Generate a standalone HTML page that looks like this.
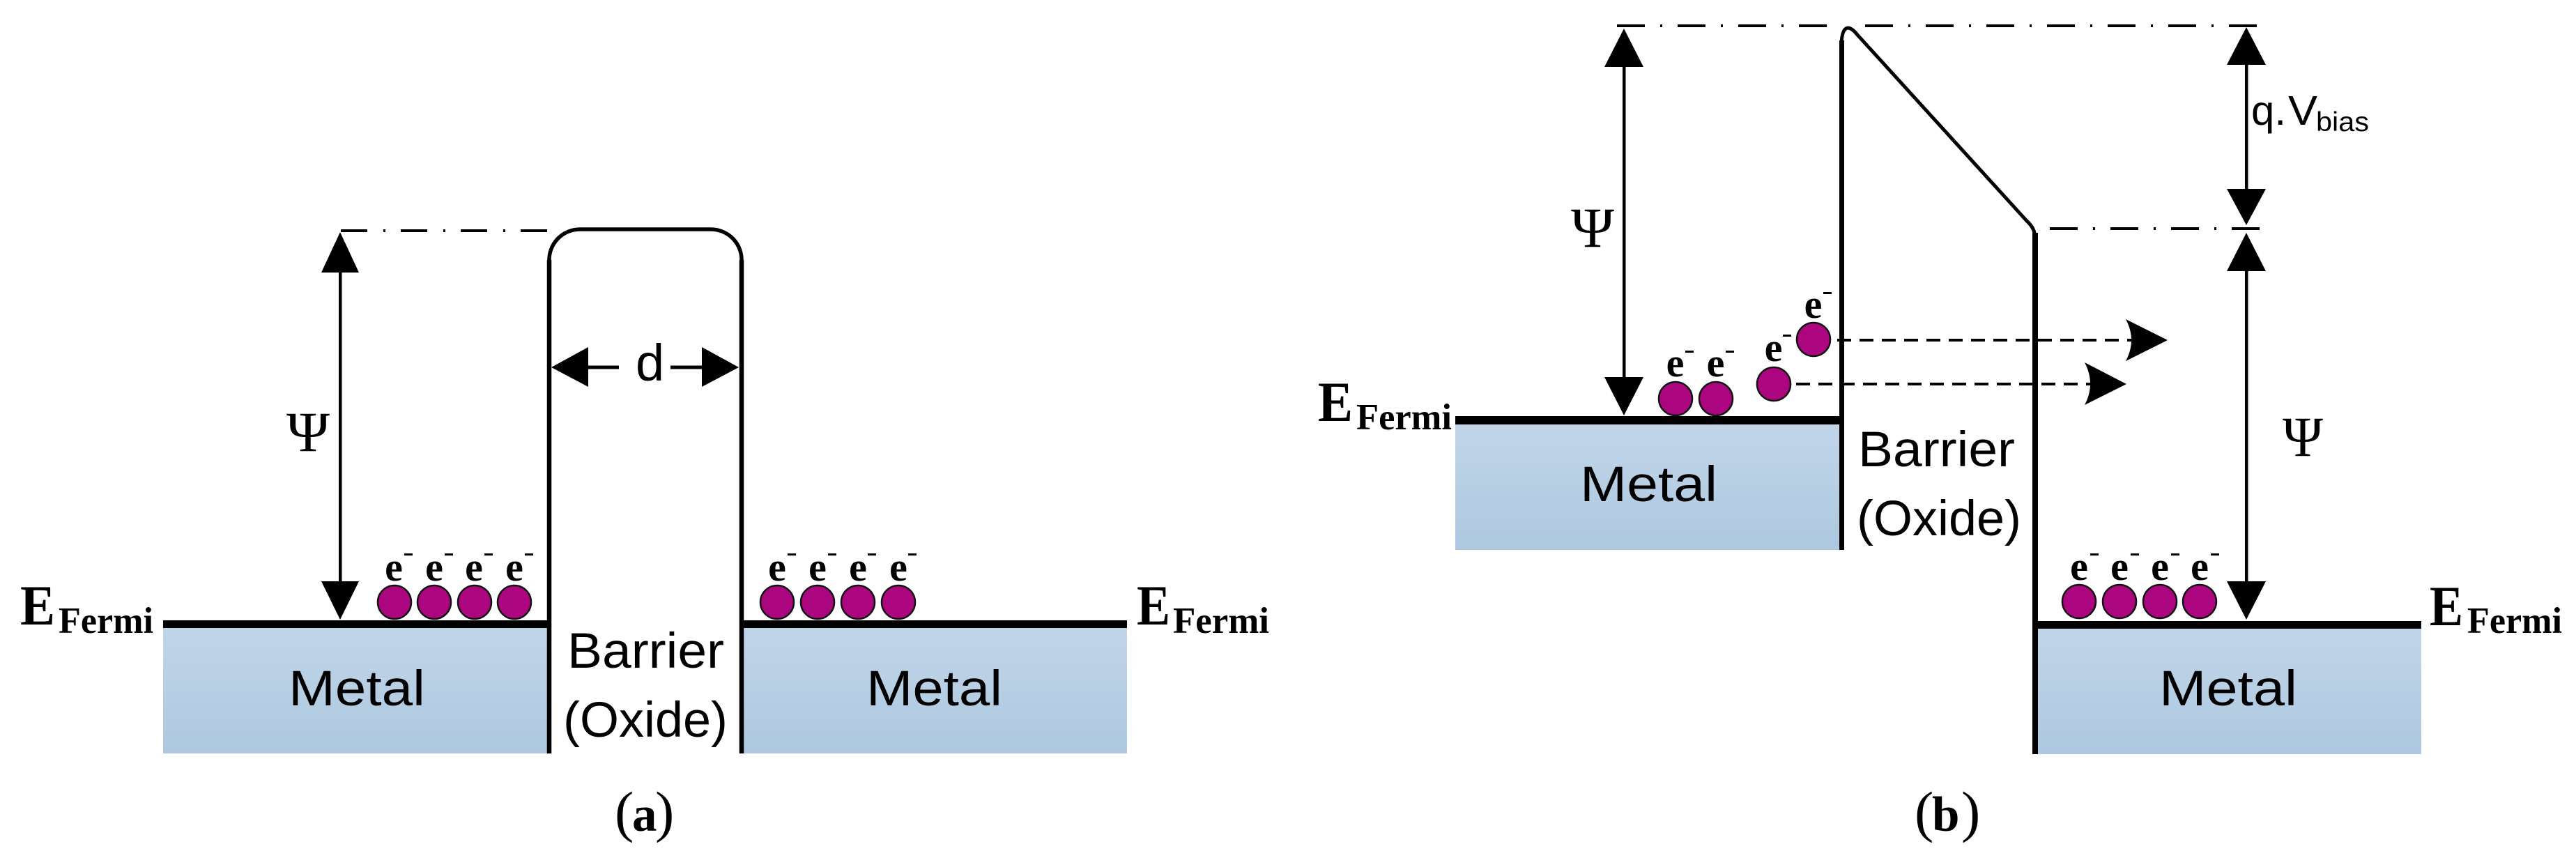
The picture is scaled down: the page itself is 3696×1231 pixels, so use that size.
<!DOCTYPE html>
<html>
<head>
<meta charset="utf-8">
<style>
html,body{margin:0;padding:0;background:#fff}
svg{display:block}
.sf{font-family:"Liberation Serif",serif}
.ss{font-family:"Liberation Sans",sans-serif}
.e{font-family:"Liberation Serif",serif;font-weight:bold;font-size:58px;text-anchor:middle}
.c{fill:#AB057F;stroke:#111;stroke-width:2.5}
</style>
</head>
<body>
<svg width="3696" height="1231" viewBox="0 0 3696 1231" xmlns="http://www.w3.org/2000/svg">
<defs>
<linearGradient id="g" x1="0" y1="0" x2="0" y2="1"><stop offset="0" stop-color="#C1D5E9"/><stop offset="1" stop-color="#ADC8DF"/></linearGradient>
</defs>
<rect width="3696" height="1231" fill="#fff"/>

<!-- metals -->
<rect x="234" y="900" width="551" height="181" fill="url(#g)"/>
<rect x="1067" y="900" width="550" height="181" fill="url(#g)"/>
<rect x="2088" y="609" width="552" height="180" fill="url(#g)"/>
<rect x="2923" y="901" width="551" height="181" fill="url(#g)"/>

<!-- Fermi lines -->
<rect x="234" y="890" width="552" height="11" fill="#000"/>
<rect x="1065" y="890" width="552" height="11" fill="#000"/>
<rect x="2088" y="597" width="553" height="12" fill="#000"/>
<rect x="2920" y="891" width="554" height="11" fill="#000"/>

<!-- barrier a -->
<path d="M788 375A44 44 0 0 1 832 329H1020A44 44 0 0 1 1064 375" fill="none" stroke="#000" stroke-width="5.5"/>
<path d="M788 373V1081M1064 373V1081" fill="none" stroke="#000" stroke-width="6.5"/>

<!-- barrier b -->
<path d="M2642.5 789V58" stroke="#000" stroke-width="7" fill="none"/>
<path d="M2642 62Q2643 40 2652 40Q2658 41 2665 50L2908 317Q2919 327 2919.5 338" fill="none" stroke="#000" stroke-width="5"/>
<path d="M2920 334V1082" stroke="#000" stroke-width="8" fill="none"/>

<!-- dash-dot lines -->
<g fill="none" stroke="#000" stroke-width="4">
<path d="M489 331H790" stroke-dasharray="38 23 3 22"/>
<path d="M2320 37H2622" stroke-dasharray="40 22 3 22"/>
<path d="M2676 37H3240" stroke-dasharray="40 22 3 22"/>
<path d="M2941 328H3243" stroke-dasharray="40 22 3 22"/>
</g>

<!-- dimension arrows a -->
<g fill="#000" stroke="none">
<rect x="486" y="385" width="4.5" height="455"/>
<path d="M488 333L515 391H461Z"/>
<path d="M488 889L461 834H515Z"/>
<rect x="840" y="524.5" width="48" height="5"/>
<rect x="962" y="524.5" width="50" height="5"/>
<path d="M791 527L844 498V555Z"/>
<path d="M1060 527L1007 498V555Z"/>
</g>

<!-- dimension arrows b -->
<g fill="#000" stroke="none">
<rect x="2328" y="90" width="4.5" height="455"/>
<path d="M2330 41L2358 96H2302Z"/>
<path d="M2330 596L2302 541H2358Z"/>
<rect x="3221" y="88" width="4.5" height="188"/>
<path d="M3223 39L3251 93H3195Z"/>
<path d="M3223 323L3195 271H3251Z"/>
<rect x="3221" y="385" width="4.5" height="453"/>
<path d="M3223 334L3251 389H3195Z"/>
<path d="M3223 889L3195 834H3251Z"/>
</g>

<!-- tunnel dashed arrows -->
<g fill="none" stroke="#000" stroke-width="4">
<path d="M2636 488H3060" stroke-dasharray="20 12"/>
<path d="M2577 551H3002" stroke-dasharray="20 12"/>
</g>
<path d="M3110 488L3050 518Q3066 488 3050 458Z" fill="#000"/>
<path d="M3051 551L2991 581Q3007 551 2991 520Z" fill="#000"/>

<!-- electrons -->
<g class="c">
<circle cx="566" cy="864" r="24"/><circle cx="623" cy="864" r="24"/><circle cx="681" cy="864" r="24"/><circle cx="738" cy="864" r="24"/>
<circle cx="1115" cy="864" r="24"/><circle cx="1173" cy="864" r="24"/><circle cx="1231" cy="864" r="24"/><circle cx="1289" cy="864" r="24"/>
<circle cx="2404" cy="572" r="24"/><circle cx="2462" cy="572" r="24"/><circle cx="2545" cy="551" r="24"/><circle cx="2602" cy="487" r="24"/>
<circle cx="2983" cy="863" r="24"/><circle cx="3041" cy="863" r="24"/><circle cx="3099" cy="863" r="24"/><circle cx="3156" cy="863" r="24"/>
</g>

<g class="e">
<text x="565" y="833">e</text><text x="623" y="833">e</text><text x="680" y="833">e</text><text x="738" y="833">e</text>
<text x="1115" y="833">e</text><text x="1173" y="833">e</text><text x="1231" y="833">e</text><text x="1289" y="833">e</text>
<text x="2403.5" y="540">e</text><text x="2461.5" y="540">e</text><text x="2544.5" y="518">e</text><text x="2601.5" y="456">e</text>
<text x="2983" y="832">e</text><text x="3041" y="832">e</text><text x="3099" y="832">e</text><text x="3156" y="832">e</text>
</g>
<g fill="#000">
<rect x="580" y="794" width="12" height="3"/><rect x="638" y="794" width="12" height="3"/><rect x="695" y="794" width="12" height="3"/><rect x="753" y="794" width="12" height="3"/>
<rect x="1130" y="794" width="12" height="3"/><rect x="1188" y="794" width="12" height="3"/><rect x="1245" y="794" width="12" height="3"/><rect x="1303" y="794" width="12" height="3"/>
<rect x="2418" y="503" width="12" height="3"/><rect x="2476" y="503" width="12" height="3"/><rect x="2558" y="480" width="12" height="3"/><rect x="2616" y="419" width="12" height="3"/>
<rect x="2999" y="794" width="12" height="3"/><rect x="3057" y="794" width="12" height="3"/><rect x="3115" y="794" width="12" height="3"/><rect x="3172" y="794" width="12" height="3"/>
</g>

<!-- E Fermi labels -->
<g class="sf" font-weight="bold" fill="#000">
<text x="29" y="896" font-size="82" textLength="50" lengthAdjust="spacingAndGlyphs">E</text>
<text x="84" y="908" font-size="53" textLength="136" lengthAdjust="spacingAndGlyphs">Fermi</text>
<text x="1631" y="896" font-size="82" textLength="48" lengthAdjust="spacingAndGlyphs">E</text>
<text x="1683" y="908" font-size="53" textLength="138" lengthAdjust="spacingAndGlyphs">Fermi</text>
<text x="1891" y="604" font-size="82" textLength="50" lengthAdjust="spacingAndGlyphs">E</text>
<text x="1946" y="616" font-size="53" textLength="137" lengthAdjust="spacingAndGlyphs">Fermi</text>
<text x="3486" y="897" font-size="82" textLength="48" lengthAdjust="spacingAndGlyphs">E</text>
<text x="3540" y="908" font-size="53" textLength="136" lengthAdjust="spacingAndGlyphs">Fermi</text>
</g>

<!-- Psi -->
<g class="sf" fill="#000">
<text x="411" y="647" font-size="82" textLength="62" lengthAdjust="spacingAndGlyphs">Ψ</text>
<text x="2254" y="354" font-size="82" textLength="62" lengthAdjust="spacingAndGlyphs">Ψ</text>
<text x="3275" y="654" font-size="82" textLength="58" lengthAdjust="spacingAndGlyphs">Ψ</text>
</g>

<!-- sans labels -->
<g class="ss" fill="#000" font-size="71">
<text x="414" y="1012" textLength="196" lengthAdjust="spacingAndGlyphs">Metal</text>
<text x="1243" y="1012" textLength="195" lengthAdjust="spacingAndGlyphs">Metal</text>
<text x="2267" y="719" textLength="197" lengthAdjust="spacingAndGlyphs">Metal</text>
<text x="3098" y="1012" textLength="198" lengthAdjust="spacingAndGlyphs">Metal</text>
<text x="814" y="958" textLength="225" lengthAdjust="spacingAndGlyphs">Barrier</text>
<text x="808" y="1057" textLength="236" lengthAdjust="spacingAndGlyphs">(Oxide)</text>
<text x="2666" y="669" textLength="225" lengthAdjust="spacingAndGlyphs">Barrier</text>
<text x="2664" y="768" textLength="236" lengthAdjust="spacingAndGlyphs">(Oxide)</text>
<text x="912" y="546" font-size="74">d</text>
</g>
<g class="ss" fill="#000">
<text x="3230" y="179" font-size="59" textLength="50" lengthAdjust="spacingAndGlyphs">q.</text>
<text x="3283" y="179" font-size="59" textLength="42" lengthAdjust="spacingAndGlyphs">V</text>
<text x="3323" y="188" font-size="39" textLength="76" lengthAdjust="spacingAndGlyphs">bias</text>
</g>

<!-- captions -->
<g class="sf" fill="#000">
<text x="882" y="1192" font-size="82">(</text>
<text x="907" y="1192" font-size="71" font-weight="bold">a</text>
<text x="940" y="1192" font-size="82">)</text>
<text x="2747" y="1192" font-size="82">(</text>
<text x="2772" y="1192" font-size="71" font-weight="bold">b</text>
<text x="2814" y="1192" font-size="82">)</text>
</g>
</svg>
</body>
</html>
